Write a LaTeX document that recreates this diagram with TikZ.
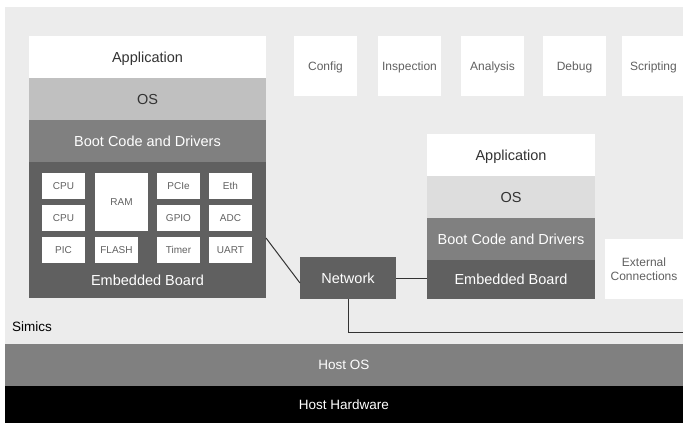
\documentclass[tikz,border=0pt]{standalone}
\usepackage{fontspec}
\setmainfont{Liberation Sans}
\usetikzlibrary{calc}
\usetikzlibrary{positioning}

\definecolor{simbg}{gray}{0.925}
\definecolor{osgray}{gray}{0.753}
\definecolor{oslight}{gray}{0.867}
\definecolor{bootgray}{gray}{0.5}
\definecolor{boardgray}{gray}{0.376}
\definecolor{darktext}{gray}{0.2}
\definecolor{softtext}{gray}{0.38}

\tikzset{
    layer/.style={rectangle, inner sep=0pt, outer sep=0pt, anchor=north west,
        text height=10.4pt, text depth=0pt, font=\fontsize{14.5}{17}\selectfont},
    hostbar/.style={layer, text=white, minimum width=678pt,
        text height=9.7pt, font=\fontsize{13.5}{15}\selectfont},
    chip/.style={layer, fill=white, text=softtext, minimum width=43pt,
        text height=7.2pt, font=\fontsize{10}{12}\selectfont},
    tool/.style={layer, fill=white, text=softtext, minimum width=63pt,
        minimum height=60pt, text height=8.6pt, font=\fontsize{12}{14}\selectfont},
    wire/.style={draw=darktext, line width=1pt}
}

\begin{document}
\begin{tikzpicture}[x=1pt,y=-1pt]
\useasboundingbox (0,0) rectangle (683,423);
% Simics background and host layers
\node[layer, fill=simbg, minimum width=678pt, minimum height=337pt] (simics) at (5,7) {};
\node[hostbar, fill=bootgray, minimum height=42pt] (hostos) at (5,344) {Host OS};
\node[hostbar, fill=black, minimum height=37pt] (hosthw) at (5,386) {Host Hardware};
\node[anchor=west, inner sep=0pt, text height=9.7pt, text depth=0pt,
    font=\fontsize{13.5}{15}\selectfont] (simlabel) at (12,327) {Simics};

%% First target system
\node[layer, fill=white, text=darktext, minimum width=237pt, minimum height=42pt] (app1) at (29,36) {Application};
\node[layer, fill=osgray, text=darktext, minimum width=237pt, minimum height=42pt] (os1) at (29,78) {OS};
\node[layer, fill=bootgray, text=white, minimum width=237pt, minimum height=42pt] (boot1) at (29,120) {Boot Code and Drivers};
\node[layer, fill=boardgray, minimum width=237pt, minimum height=136pt] (board1) at (29,162) {};
\node[text=white, inner sep=0pt, text height=10.4pt, text depth=0pt,
    font=\fontsize{14.5}{17}\selectfont] (board1label) at (147.5,280) {Embedded Board};

% devices on the board
\foreach \name/\x/\y in {CPU/42/173, CPU/42/205, PIC/42/237, FLASH/95/237,
    PCIe/157/173, GPIO/157/205, Timer/157/237, Eth/209/173, ADC/209/205, UART/209/237}
    \node[chip, minimum height=26pt] (dev-\x-\y) at (\x,\y) {\name};
\node[chip, minimum width=53pt, minimum height=58pt] (ram) at (95,173) {RAM};

%% Tool boxes
\foreach \name/\x in {Config/294, Inspection/378, Analysis/461, Debug/543, Scripting/622}
    \node[tool] (\name) at (\x,36) {\name};

%% Second target system
\node[layer, fill=white, text=darktext, minimum width=168pt, minimum height=42pt] (app2) at (427,134) {Application};
\node[layer, fill=oslight, text=darktext, minimum width=168pt, minimum height=42pt] (os2) at (427,176) {OS};
\node[layer, fill=bootgray, text=white, minimum width=168pt, minimum height=42pt] (boot2) at (427,218) {Boot Code and Drivers};
\node[layer, fill=boardgray, text=white, minimum width=168pt, minimum height=39pt] (board2) at (427,260) {Embedded Board};

\node[layer, fill=boardgray, text=white, minimum width=96pt, minimum height=42pt] (net) at (300,257) {Network};
\node[rectangle, inner sep=0pt, outer sep=0pt, anchor=north west, fill=white, text=softtext,
    minimum width=78pt, minimum height=60pt, align=center,
    font=\fontsize{12}{14}\selectfont] (extconn) at (605,239) {External\\Connections};

%% Connections
\coordinate (rightedge) at (683,332);
\draw[wire] ([yshift=-8pt]board1.east) -- ([yshift=-5pt]net.west);
\draw[wire] (net.east) -- (net.east -| board2.west);
\draw[wire] (net.south) |- (rightedge);
\end{tikzpicture}
\end{document}
